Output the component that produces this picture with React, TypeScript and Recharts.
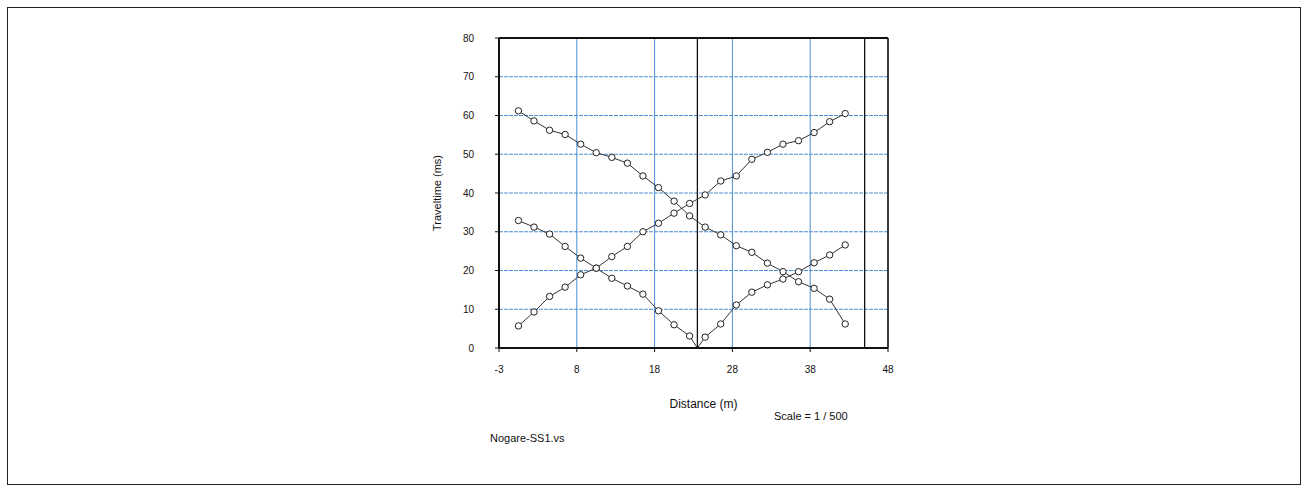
import {
  LineChart, Line, XAxis, YAxis, CartesianGrid, ReferenceLine,
} from "recharts";

// geophone positions (m) and first-break picks (ms) for the three shots
const geophoneX = [
  0.5, 2.5, 4.5, 6.5, 8.5, 10.5, 12.5, 14.5, 16.5, 18.5, 20.5,
  22.5, 24.5, 26.5, 28.5, 30.5, 32.5, 34.5, 36.5, 38.5, 40.5, 42.5,
];
const forwardShot = [
  5.7, 9.3, 13.3, 15.7, 18.9, 20.6, 23.6, 26.2, 30.0, 32.2, 34.8,
  37.3, 39.5, 43.1, 44.4, 48.7, 50.5, 52.6, 53.5, 55.6, 58.4, 60.5,
];
const reverseShot = [
  61.2, 58.6, 56.2, 55.1, 52.6, 50.4, 49.2, 47.7, 44.4, 41.4, 37.9,
  34.1, 31.2, 29.2, 26.4, 24.7, 21.9, 19.7, 17.1, 15.4, 12.6, 6.2,
];
const centerShot = [
  32.9, 31.2, 29.4, 26.2, 23.2, 20.6, 18.0, 16.0, 13.9, 9.6, 6.0,
  3.1, 2.8, 6.2, 11.1, 14.4, 16.3, 17.8, 19.7, 22.0, 24.0, 26.6,
];
const centerShotX = 23.5;
const shotLines = [23.5, 45];

const xTicks = [-2, 8, 18, 28, 38, 48];
const xTickLabels = ["-3", "8", "18", "28", "38", "48"];
const yTicks = [0, 10, 20, 30, 40, 50, 60, 70, 80];

const toSeries = (times: number[]) => geophoneX.map((x, i) => ({ x, t: times[i] }));

const forwardData = toSeries(forwardShot);
const reverseData = toSeries(reverseShot);
const centerData = [
  ...toSeries(centerShot).filter((d) => d.x < centerShotX),
  { x: centerShotX, t: 0, shot: true },
  ...toSeries(centerShot).filter((d) => d.x > centerShotX),
];

const FONT = "'Liberation Sans', Arial, sans-serif";
const dotStyle = { r: 3.2, fill: "#fff", stroke: "#222", strokeWidth: 1 };
const gridBlue = "#4a8fd2";

const centerDot = (props: any) => {
  const { cx, cy, payload, index } = props;
  if (payload.shot) return <g key={`c-${index}`} />;
  return <circle key={`c-${index}`} cx={cx} cy={cy} r={3.2} fill="#fff" stroke="#222" strokeWidth={1} />;
};

export default function App() {
  return (
    <div style={{ position: "fixed", left: 0, top: 0, width: 1307, height: 490, background: "#fff", fontFamily: FONT }}>
      <div style={{ position: "absolute", left: 7, top: 7, width: 1292, height: 476, border: "1px solid #222" }} />
      <div style={{ position: "absolute", left: 400, top: 20 }}>
        <LineChart width={510} height={400} margin={{ top: 12, right: 16, bottom: 12, left: 0 }}>
          <CartesianGrid horizontal vertical={false} stroke={gridBlue} strokeDasharray="4 1" strokeWidth={1} />
          <CartesianGrid horizontal={false} vertical stroke={gridBlue} strokeWidth={1} />
          <XAxis
            type="number"
            dataKey="x"
            domain={[-2, 48]}
            ticks={xTicks}
            tickFormatter={(_v: number, i: number) => xTickLabels[i]}
            tick={{ fontSize: 10, fill: "#111", fontFamily: FONT }}
            tickSize={4}
            tickMargin={14}
            height={60}
            stroke="#111"
            axisLine={{ strokeWidth: 2 }}
            allowDataOverflow
            label={{ value: "Distance (m)", position: "center", dy: 26, dx: 10, fontSize: 12, fill: "#111", fontFamily: FONT }}
          />
          <XAxis
            xAxisId="top"
            orientation="top"
            type="number"
            domain={[-2, 48]}
            ticks={xTicks}
            tickFormatter={() => ""}
            tickSize={4}
            height={6}
            stroke="#111"
            axisLine={{ strokeWidth: 2 }}
          />
          <YAxis
            type="number"
            domain={[0, 80]}
            ticks={yTicks}
            tick={{ fontSize: 10, fill: "#111", fontFamily: FONT }}
            tickSize={4}
            tickMargin={21}
            width={99}
            stroke="#111"
            axisLine={{ strokeWidth: 2 }}
            label={{ value: "Traveltime (ms)", angle: -90, position: "center", dx: -12, fontSize: 11, fill: "#111", fontFamily: FONT }}
          />
          <YAxis
            yAxisId="right"
            orientation="right"
            type="number"
            domain={[0, 80]}
            ticks={yTicks}
            tickFormatter={() => ""}
            tickSize={4}
            width={6}
            stroke="#111"
            axisLine={{ strokeWidth: 1.5 }}
          />
          {shotLines.map((x) => (
            <ReferenceLine key={x} x={x} stroke="#111" strokeWidth={1.3} />
          ))}
          <Line data={reverseData} dataKey="t" type="linear" stroke="#333" strokeWidth={1} dot={dotStyle} isAnimationActive={false} />
          <Line data={forwardData} dataKey="t" type="linear" stroke="#333" strokeWidth={1} dot={dotStyle} isAnimationActive={false} />
          <Line data={centerData} dataKey="t" type="linear" stroke="#333" strokeWidth={1} dot={centerDot} isAnimationActive={false} />
        </LineChart>
      </div>
      <div style={{ position: "absolute", left: 774, top: 410, fontSize: 11, lineHeight: "12px", color: "#111", whiteSpace: "nowrap" }}>
        Scale = 1 / 500
      </div>
      <div style={{ position: "absolute", left: 490, top: 432, fontSize: 11, lineHeight: "12px", color: "#111", whiteSpace: "nowrap" }}>
        Nogare-SS1.vs
      </div>
    </div>
  );
}
